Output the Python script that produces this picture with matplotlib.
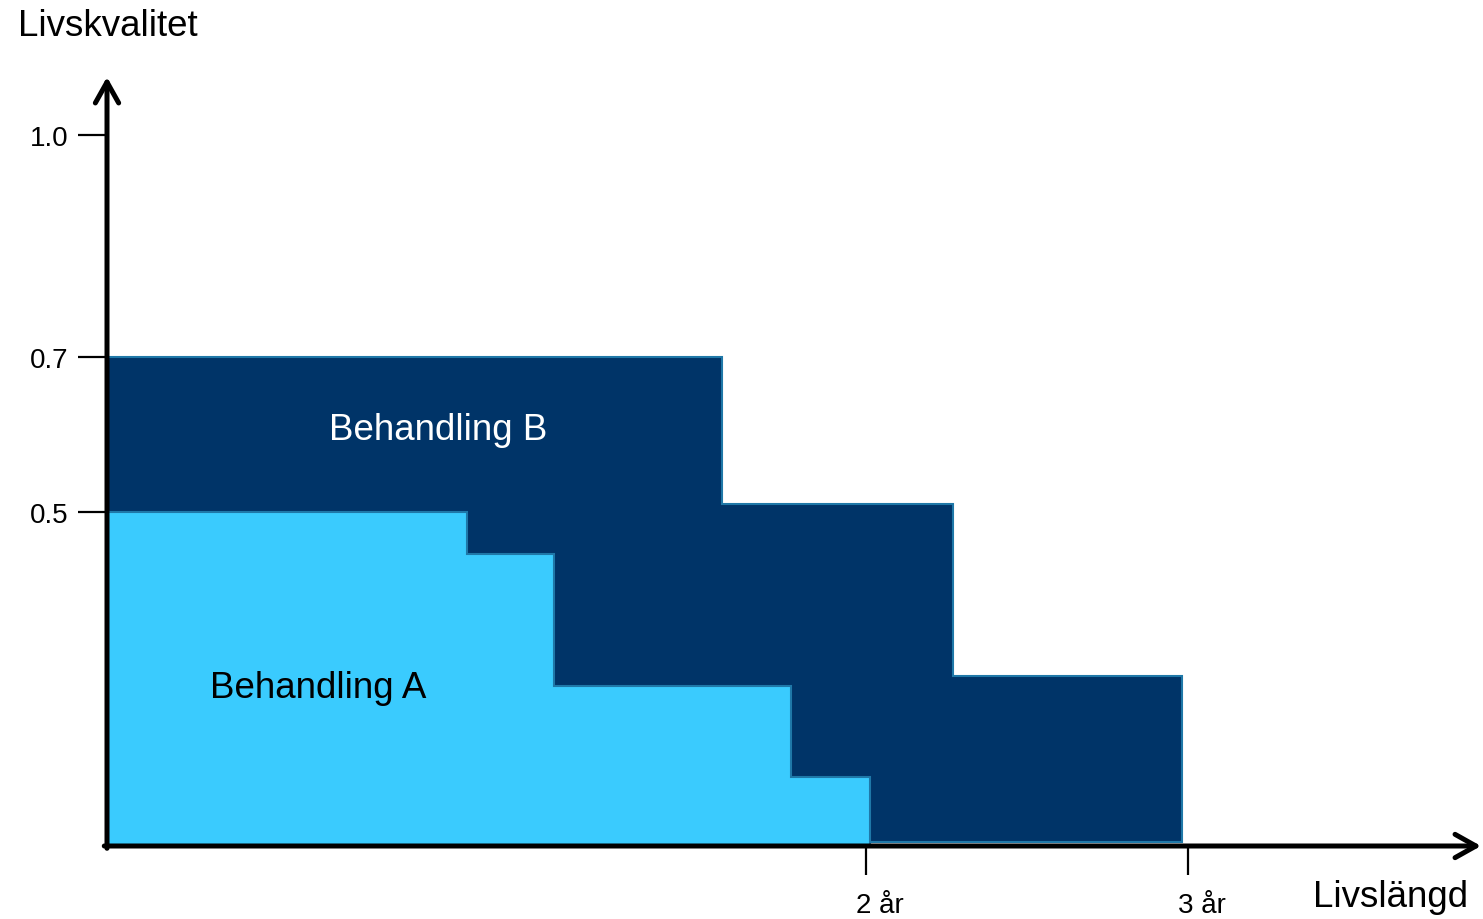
import numpy as np
import matplotlib

matplotlib.use('Agg')

import matplotlib.pyplot as plt
from matplotlib.transforms import ScaledTranslation

plt.rcParams['font.family'] = ['Liberation Sans', 'DejaVu Sans']

# quality of life over time, two treatments (schematic step curves)
years_b = [0.0, 1.621, 2.270, 2.981]
quality_b = [0.70, 0.510, 0.254]
years_a = [0.0, 0.949, 1.178, 1.802, 2.012]
quality_a = [0.50, 0.437, 0.240, 0.103]

y_ticks = [0.5, 0.7, 1.0]
y_tick_labels = ['0.5', '0.7', '1.0']
x_ticks = [2, 3]
x_tick_labels = ['2 år', '3 år']

DARK = '#003468'
LIGHT = '#3acbfe'
EDGE = '#1f78a8'

# the axes are drawn as a sketch, not to scale: piecewise-linear scales
y_anchor_val = [0.0, 0.5, 0.7, 1.0, 2.0]
y_anchor_pos = [0.0, 334.0, 489.0, 711.0, 1451.0]
x_anchor_val = [0.0, 2.0, 3.0, 6.0]
x_anchor_pos = [0.0, 759.0, 1081.0, 2047.0]


def y_fwd(v):
    return np.interp(v, y_anchor_val, y_anchor_pos)


def y_inv(p):
    return np.interp(p, y_anchor_pos, y_anchor_val)


def x_fwd(v):
    return np.interp(v, x_anchor_val, x_anchor_pos)


def x_inv(p):
    return np.interp(p, x_anchor_pos, x_anchor_val)


def step_outline(edges, levels, base=0.0):
    xs = [edges[0]]
    ys = [base]
    for i, lev in enumerate(levels):
        xs += [edges[i], edges[i + 1]]
        ys += [lev, lev]
    xs.append(edges[-1])
    ys.append(base)
    return xs, ys


fig = plt.figure(figsize=(14.83, 9.2), dpi=100)
ax = fig.add_axes([107 / 1483, 73 / 920, 1374 / 1483, 769 / 920])
ax.set_xscale('function', functions=(x_fwd, x_inv))
ax.set_yscale('function', functions=(y_fwd, y_inv))
ax.set_xlim(0, 3.91)
ax.set_ylim(0, 1.078)

xb, yb = step_outline(years_b, quality_b, base=0.006)
ax.fill(xb, yb, facecolor=DARK, edgecolor=EDGE, linewidth=1.5, zorder=2)
xa, ya = step_outline(years_a, quality_a)
ax.fill(xa, ya, facecolor=LIGHT, edgecolor=EDGE, linewidth=1.5, zorder=3)

ax.text(0.872, 0.606, 'Behandling B', color='white', fontsize=26.5,
        ha='center', va='center', zorder=5)
ax.text(0.556, 0.2365, 'Behandling A', color='black', fontsize=26.5,
        ha='center', va='center', zorder=5)

for s in ax.spines.values():
    s.set_visible(False)

arrow = dict(arrowstyle='->,head_length=0.75,head_width=0.42', lw=3.6,
             color='black', mutation_scale=20, shrinkA=0, shrinkB=0)
ax.annotate('', xy=(0, 1), xytext=(0, -0.003), xycoords='axes fraction',
            arrowprops=arrow, zorder=6)
ax.annotate('', xy=(1, 0), xytext=(-0.002, 0), xycoords='axes fraction',
            arrowprops=arrow, zorder=6)

ax.set_yticks(y_ticks)
ax.set_yticklabels(y_tick_labels)
ax.set_xticks(x_ticks)
ax.set_xticklabels(x_tick_labels)
ax.minorticks_off()
ax.tick_params(axis='y', length=21, width=1.6, pad=7, labelsize=20)
ax.tick_params(axis='x', length=21, width=1.6, pad=12, labelsize=20)
shift = ScaledTranslation(-10 / 100, 0, fig.dpi_scale_trans)
for lab in ax.get_xticklabels():
    lab.set_horizontalalignment('left')
    lab.set_transform(lab.get_transform() + shift)

fig.text(18 / 1483, 1 - 27 / 920, 'Livskvalitet', fontsize=26.5,
         ha='left', va='center')
fig.text(1313 / 1483, 1 - 898 / 920, 'Livslängd', fontsize=26.5,
         ha='left', va='center')

plt.savefig('out.png', dpi=100)
